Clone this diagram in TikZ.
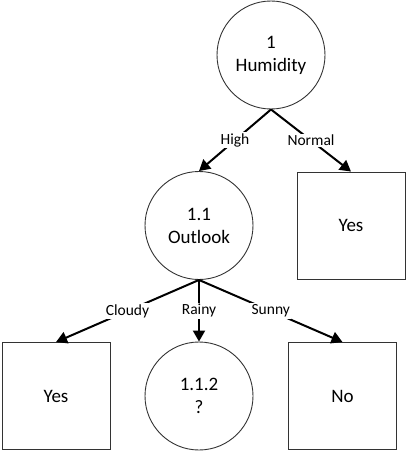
\documentclass[tikz,border=0pt]{standalone}
\usepackage{fontspec}
\setmainfont{Carlito}
\usetikzlibrary{arrows.meta}
\begin{document}
\begin{tikzpicture}[x=1pt,y=-1pt,
  treenode/.style={draw=black!80, line width=0.9pt, circle, minimum size=108pt, inner sep=0pt, align=center, font=\fontsize{19}{23}\selectfont},
  leaf/.style={draw=black!80, line width=0.9pt, rectangle, minimum width=108pt, minimum height=107pt, inner sep=0pt, align=center, font=\fontsize{19}{23}\selectfont},
  edge/.style={line width=2pt, -{Triangle[length=11pt,width=12pt]}},
  lbl/.style={fill=white, inner sep=1.5pt, font=\fontsize{15.5}{18}\selectfont}
]
\useasboundingbox (0,0) rectangle (407,452);
\node[treenode] (h) at (271,55) {1\\Humidity};
\node[treenode] (o) at (199,225.5) {1.1\\Outlook};
\node[leaf] (y1) at (351,225.5) {Yes};
\node[leaf] (y2) at (56,396) {Yes};
\node[treenode] (q) at (199,396) {1.1.2\\?};
\node[leaf] (n) at (342.5,396) {No};
\draw[edge] (h.south) -- node[lbl] {High} (o.north);
\draw[edge] (h.south) -- node[lbl] {Normal} (y1.north);
\draw[edge] (o.south) -- node[lbl] {Cloudy} (y2.north);
\draw[edge] (o.south) -- node[lbl] {Rainy} (q.north);
\draw[edge] (o.south) -- node[lbl] {Sunny} (n.north);
\end{tikzpicture}
\end{document}
